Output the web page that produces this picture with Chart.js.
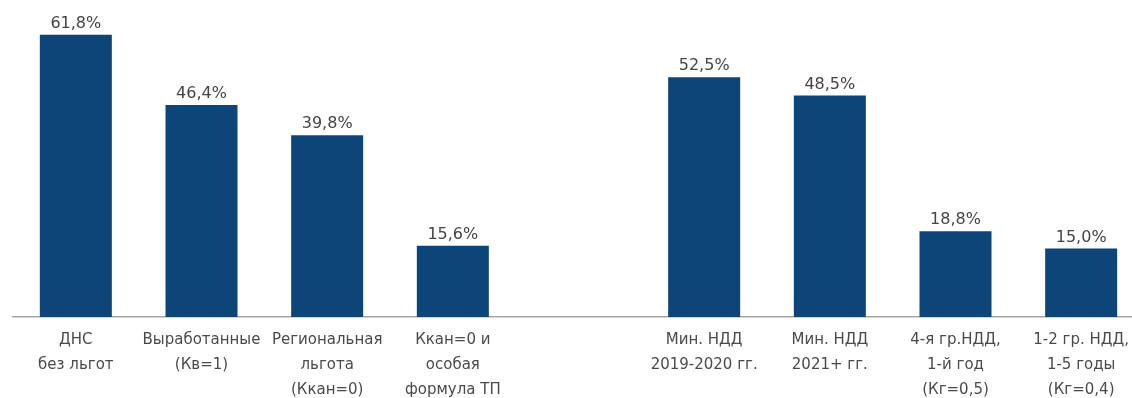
<!DOCTYPE html>
<html lang="ru">
<head>
  <meta charset="UTF-8" />
  <title>Налоговая нагрузка</title>
  <script src="https://cdn.jsdelivr.net/npm/chart.js"></script>
  <style>
    html, body {
      margin: 0;
      padding: 0;
      background: #ffffff;
      overflow: hidden;
    }
    #wrap {
      width: 1145px;
      height: 398px;
    }
  </style>
</head>
<body>
  <div id="wrap">
    <canvas id="barChart" width="1145" height="398"></canvas>
  </div>

  <script>
    // Categories (empty one is the gap between the two groups)
    const categories = [
      ["ДНС", "без льгот"],
      ["Выработанные", "(Кв=1)"],
      ["Региональная", "льгота", "(Ккан=0)"],
      ["Ккан=0 и", "особая", "формула ТП"],
      "",
      ["Мин. НДД", "2019-2020 гг."],
      ["Мин. НДД", "2021+ гг."],
      ["4-я гр.НДД,", "1-й год", "(Кг=0,5)"],
      ["1-2 гр. НДД,", "1-5 годы", "(Кг=0,4)"]
    ];
    const values = [61.8, 46.4, 39.8, 15.6, null, 52.5, 48.5, 18.8, 15.0];

    const fontFamily = "'DejaVu Sans', Verdana, sans-serif";

    // value labels above the bars
    const valueLabels = {
      id: 'valueLabels',
      afterDatasetsDraw(chart) {
        const ctx = chart.ctx;
        const meta = chart.getDatasetMeta(0);
        ctx.save();
        ctx.font = "16px " + fontFamily;
        ctx.fillStyle = "#444444";
        ctx.textAlign = "center";
        ctx.textBaseline = "middle";
        meta.data.forEach((bar, i) => {
          const v = values[i];
          if (v === null) return;
          ctx.fillText(v.toFixed(1).replace('.', ',') + '%', bar.x, bar.y - 11);
        });
        ctx.restore();
      }
    };

    new Chart(document.getElementById('barChart'), {
      type: 'bar',
      data: {
        labels: categories,
        datasets: [{
          data: values,
          backgroundColor: '#0e4578',
          borderWidth: 0,
          categoryPercentage: 1,
          barPercentage: 0.573
        }]
      },
      options: {
        responsive: false,
        animation: false,
        layout: { padding: { left: 13, right: 1, top: 0, bottom: 0 } },
        plugins: {
          legend: { display: false },
          tooltip: { enabled: false }
        },
        scales: {
          x: {
            grid: { display: false },
            border: { display: true, color: '#a6a6a6', width: 1.5 },
            ticks: {
              autoSkip: false,
              maxRotation: 0,
              minRotation: 0,
              padding: 3,
              color: '#4a4a4a',
              font: { family: fontFamily, size: 15, lineHeight: '25px' }
            },
            afterFit(scale) { scale.height = 81; }
          },
          y: {
            display: false,
            min: 0,
            max: 69.4
          }
        }
      },
      plugins: [valueLabels]
    });
  </script>
</body>
</html>
